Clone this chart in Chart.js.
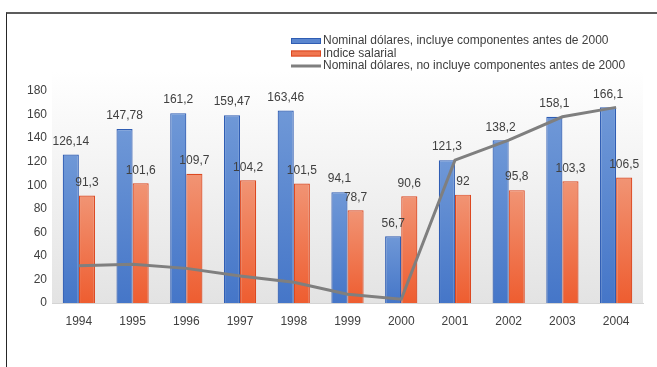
<!DOCTYPE html>
<html lang="es">
<head>
<meta charset="utf-8">
<title>Nominal dólares e índice salarial 1994-2004</title>
<script src="https://cdn.jsdelivr.net/npm/chart.js@4/dist/chart.umd.min.js"></script>
<style>
    html, body { margin: 0; padding: 0; background: #fff; }
    body { width: 657px; height: 367px; position: relative; overflow: hidden; }
    #marco {
        position: absolute; left: 6px; top: 12px; width: 651px; height: 355px;
        border-top: 2px solid #5c5c5c; border-left: 1px solid #262626;
        box-sizing: border-box;
    }
    #grafica { position: absolute; left: 0; top: 0; width: 657px; height: 367px; }
</style>
</head>
<body>
<div id="marco"></div>
<canvas id="grafica" width="657" height="367"></canvas>
<script>
// ── Datos ──
const anios = ['1994', '1995', '1996', '1997', '1998', '1999', '2000', '2001', '2002', '2003', '2004'];
const nominalConComp = [126.14, 147.78, 161.2, 159.47, 163.46, 94.1, 56.7, 121.3, 138.2, 158.1, 166.1];
const indiceSalarial = [91.3, 101.6, 109.7, 104.2, 101.5, 78.7, 90.6, 92, 95.8, 103.3, 106.5];
const nominalSinComp = [31.7, 32.8, 29.4, 23, 17.6, 7.4, 3.2, 121.3, 138.2, 158.1, 166.1];
const ticksY = [0, 20, 40, 60, 80, 100, 120, 140, 160, 180];

const FUENTE = '"Liberation Sans", Arial, sans-serif';
const TEXTO = '#404040';

// ── Formato decimal con coma ──
function _fmt(v) {
    return String(v).replace('.', ',');
}

// ── Degradado vertical por barra (claro arriba, intenso abajo) ──
function degradado(claro, oscuro) {
    return c => {
        const chart = c.chart;
        const area = chart.chartArea;
        if (!area || c.type !== 'data') return oscuro;
        const tope = chart.scales.y.getPixelForValue(c.raw);
        const g = chart.ctx.createLinearGradient(0, tope, 0, area.bottom);
        g.addColorStop(0, claro);
        g.addColorStop(1, oscuro);
        return g;
    };
}

// ── Fondo del área de trazado ──
const fondoArea = {
    id: 'fondoArea',
    beforeDatasetsDraw(chart) {
        const { ctx, chartArea: a } = chart;
        const g = ctx.createLinearGradient(0, a.top - 20, 0, a.bottom);
        g.addColorStop(0, '#ffffff');
        g.addColorStop(1, '#e3e3e3');
        ctx.save();
        ctx.fillStyle = g;
        ctx.fillRect(a.left, a.top - 20, a.right - a.left, a.bottom - a.top + 20);
        ctx.restore();
    }
};

// ── Etiquetas de valor encima de cada barra ──
const etiquetasBarras = {
    id: 'etiquetasBarras',
    afterDatasetsDraw(chart) {
        const ctx = chart.ctx;
        ctx.save();
        ctx.font = '12px ' + FUENTE;
        ctx.fillStyle = TEXTO;
        ctx.textAlign = 'center';
        ctx.textBaseline = 'bottom';
        chart.data.datasets.forEach((ds, i) => {
            if (ds.type !== 'bar') return;
            chart.getDatasetMeta(i).data.forEach((bar, j) => {
                ctx.fillText(_fmt(ds.data[j]), bar.x, bar.y - 7);
            });
        });
        ctx.restore();
    }
};

// ── Leyenda en columna, arriba a la derecha ──
const leyendaColumna = {
    id: 'leyendaColumna',
    afterDraw(chart) {
        const ctx = chart.ctx;
        const x0 = 291, y0 = 41, paso = 12.5, ancho = 30;
        ctx.save();
        ctx.font = '12px ' + FUENTE;
        ctx.textBaseline = 'middle';
        ctx.textAlign = 'left';
        chart.data.datasets.forEach((ds, i) => {
            const y = y0 + i * paso;
            if (ds.type === 'bar') {
                ctx.fillStyle = ds.colorLeyenda;
                ctx.fillRect(x0, y - 3, ancho, 6);
                ctx.strokeStyle = ds.borderColor;
                ctx.lineWidth = 1;
                ctx.strokeRect(x0 + 0.5, y - 2.5, ancho - 1, 5);
            } else {
                ctx.strokeStyle = ds.borderColor;
                ctx.lineWidth = ds.borderWidth;
                ctx.beginPath();
                ctx.moveTo(x0, y);
                ctx.lineTo(x0 + ancho, y);
                ctx.stroke();
            }
            ctx.fillStyle = TEXTO;
            ctx.fillText(ds.label, x0 + ancho + 2, y);
        });
        ctx.restore();
    }
};

new Chart(document.getElementById('grafica'), {
    data: {
        labels: anios,
        datasets: [
            {
                type: 'bar',
                label: 'Nominal dólares, incluye componentes antes de 2000',
                data: nominalConComp,
                backgroundColor: degradado('#6f98d7', '#4576c8'),
                colorLeyenda: '#5a86cf',
                borderColor: '#2f5db3',
                borderWidth: 1.2,
                categoryPercentage: 0.6,
                barPercentage: 1.0,
                order: 1
            },
            {
                type: 'bar',
                label: 'Indice salarial',
                data: indiceSalarial,
                backgroundColor: degradado('#f19474', '#ee5d30'),
                colorLeyenda: '#f07650',
                borderColor: '#dc4820',
                borderWidth: 1.2,
                categoryPercentage: 0.6,
                barPercentage: 1.0,
                order: 1
            },
            {
                type: 'line',
                label: 'Nominal dólares, no incluye componentes antes de 2000',
                data: nominalSinComp,
                borderColor: '#7f7f7f',
                borderWidth: 3,
                pointRadius: 0,
                tension: 0,
                fill: false,
                order: 0
            }
        ]
    },
    options: {
        responsive: false,
        animation: false,
        devicePixelRatio: 1,
        layout: { padding: { top: 91, right: 14, bottom: 0, left: 0 } },
        plugins: {
            legend: { display: false },
            tooltip: { enabled: false }
        },
        scales: {
            x: {
                offset: true,
                grid: { display: false, drawTicks: false },
                border: { display: true, color: '#d4d4d4' },
                ticks: { color: TEXTO, font: { family: FUENTE, size: 12 }, padding: 11, maxRotation: 0, autoSkip: false },
                afterFit: s => { s.height = 64; }
            },
            y: {
                min: 0,
                max: 180,
                grid: { display: false, drawTicks: false },
                border: { display: false },
                afterBuildTicks: s => { s.ticks = ticksY.map(v => ({ value: v })); },
                ticks: { color: TEXTO, font: { family: FUENTE, size: 12 }, padding: 5 },
                afterFit: s => { s.width = 52; }
            }
        }
    },
    plugins: [fondoArea, etiquetasBarras, leyendaColumna]
});
</script>
</body>
</html>
